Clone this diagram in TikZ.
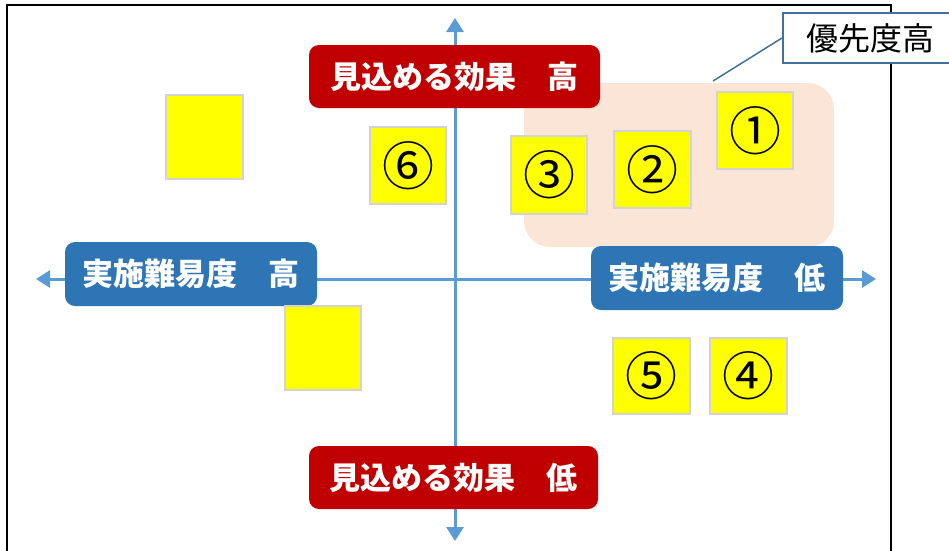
\documentclass[tikz,border=0pt]{standalone}
\usepackage{fontspec}
\newfontfamily\cjk{Noto Sans CJK JP}
\usetikzlibrary{arrows.meta}
\definecolor{axisblue}{HTML}{5B9BD5}
\definecolor{lblred}{HTML}{C00000}
\definecolor{lblblue}{HTML}{2E75B6}
\definecolor{callout}{HTML}{41719C}
\definecolor{pinkzone}{HTML}{FBE5D6}
\definecolor{stickyedge}{HTML}{D3D3D3}
\definecolor{stickyfill}{HTML}{FFFF00}
\tikzset{
  redlbl/.style={fill=lblred, rounded corners=10pt, text=white, font=\cjk\bfseries\fontsize{31}{33}\selectfont, inner sep=0pt, minimum height=63pt},
  bluelbl/.style={fill=lblblue, rounded corners=10pt, text=white, font=\cjk\bfseries\fontsize{31}{33}\selectfont, inner sep=0pt, minimum height=64pt, minimum width=252pt},
  sticky/.style={fill=stickyfill, draw=stickyedge, line width=1.5pt, inner sep=0pt, font=\cjk\fontsize{52}{54}\selectfont},
  axisline/.style={axisblue, line width=3pt, arrows={Triangle[width=17pt,length=14pt]-Triangle[width=17pt,length=14pt]}},
}
\begin{document}
\begin{tikzpicture}[x=1pt,y=-1pt]
\useasboundingbox (0,0) rectangle (949,550);
% outer frame
\draw[black, line width=2.2pt] (7,552) -- (7,5) -- (891,5) -- (891,552);
% priority zone
\fill[pinkzone, rounded corners=26pt] (524,83) rectangle (834,247);
% axes
\coordinate (ytop) at (455,18);
\coordinate (ybot) at (455,541);
\coordinate (xl) at (36,279);
\coordinate (xr) at (876,279);
\draw[axisline] (ybot) -- (ytop);
\draw[axisline] (xl) -- (xr);
% axis labels
\node[redlbl, minimum width=291pt] (efhi) at (454.5,76.5) {見込める効果　高};
\node[redlbl, minimum width=289pt] (eflo) at (453.5,477.5) {見込める効果　低};
\node[bluelbl] (dfhi) at (191,274) {実施難易度　高};
\node[bluelbl] (dflo) at (717,278) {実施難易度　低};
% sticky notes
\node[sticky, minimum width=77pt, minimum height=84pt] (sa) at (204.5,137) {};
\node[sticky, minimum width=76pt, minimum height=77pt] (s6) at (408,165.5) {⑥};
\node[sticky, minimum width=76pt, minimum height=78pt] (s3) at (549,175) {③};
\node[sticky, minimum width=77pt, minimum height=77pt] (s2) at (652.5,169.5) {②};
\node[sticky, minimum width=76pt, minimum height=77pt] (s1) at (755,130.5) {①};
\node[sticky, minimum width=76pt, minimum height=84pt] (sb) at (323,348) {};
\node[sticky, minimum width=77pt, minimum height=76pt] (s5) at (651.5,376) {⑤};
\node[sticky, minimum width=77pt, minimum height=76pt] (s4) at (748.5,376) {④};
% callout
\node[draw=callout, fill=white, line width=1.5pt, anchor=west, minimum width=176pt, minimum height=50pt, inner sep=0pt, font=\cjk\fontsize{32}{34}\selectfont] (prio) at (782,38) {優先度高};
\coordinate (ctail) at (713,81);
\draw[callout, line width=1.5pt] (ctail) -- (prio.west);
\end{tikzpicture}
\end{document}
